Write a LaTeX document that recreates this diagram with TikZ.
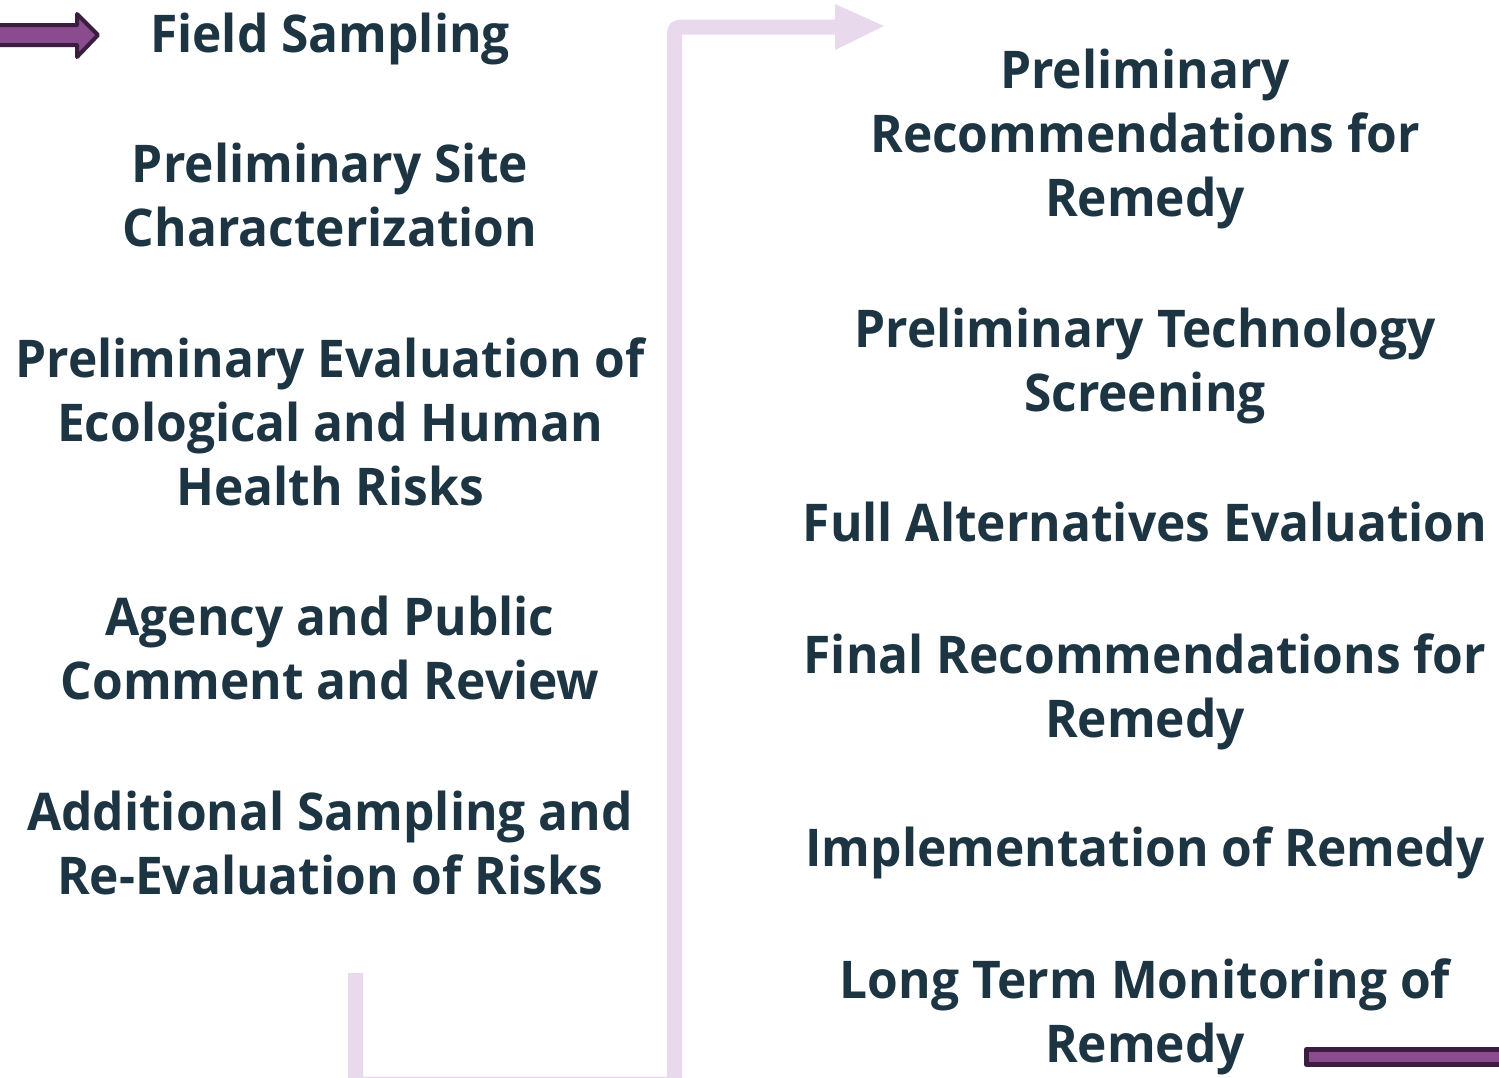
\documentclass[tikz,border=0pt]{standalone}
\usepackage{fontspec}
\setmainfont{Open Sans}[FakeStretch=0.955]
\begin{document}
\begin{tikzpicture}[x=1pt,y=-1pt,line join=round]
    \definecolor{slate}{RGB}{29,52,66}
    \definecolor{lilac}{RGB}{233,217,236}
    \definecolor{plum}{RGB}{139,76,143}
    \definecolor{darkplum}{RGB}{59,30,63}
    % base anchor sits on the last line of each stage
    \tikzset{stage/.style={text=slate,font=\fontsize{52}{64}\selectfont\bfseries,
            align=center,anchor=base,inner sep=0pt}}
    \useasboundingbox (0,0) rectangle (1499,1077);
    \clip (0,0) rectangle (1499,1077);
    % light bent arrow from the left column up to the right column
    \coordinate (low) at (355.5,973);
    \coordinate (dip) at (355.5,1084);
    \coordinate (riseL) at (674.5,1084);
    \coordinate (riseT) at (674.5,27);
    \coordinate (head) at (838,27);
    \draw[lilac,line width=15pt,rounded corners=5pt] (low)--(dip)--(riseL)--(riseT)--(head);
    \fill[lilac] (835,4)--(884,26)--(835,50)--cycle;
    % start and end marks
    \draw[darkplum,fill=plum,line width=4pt]
    (-5,25)--(77,25)--(77,14)--(98,35)--(77,57)--(77,45)--(-5,45)--cycle;
    \draw[darkplum,fill=plum,line width=5pt] (1306.5,1049.5) rectangle (1510,1064.5);
    % left column
    \node[stage] (fs) at (330,52) {Field Sampling};
    \node[stage] (psc) at (330,246) {Preliminary Site\\Characterization};
    \node[stage] (pe) at (330,505) {Preliminary Evaluation of\\Ecological and Human\\Health Risks};
    \node[stage] (apc) at (330,699) {Agency and Public\\Comment and Review};
    \node[stage] (asr) at (330,894) {Additional Sampling and\\Re-Evaluation of Risks};
    % right column
    \node[stage] (prr) at (1145,216) {Preliminary\\Recommendations for\\Remedy};
    \node[stage] (pts) at (1145,411) {Preliminary Technology\\Screening};
    \node[stage] (fae) at (1145,541) {Full Alternatives Evaluation};
    \node[stage] (frr) at (1145,737) {Final Recommendations for\\Remedy};
    \node[stage] (ior) at (1145,866) {Implementation of Remedy};
    \node[stage] (ltm) at (1145,1062) {Long Term Monitoring of\\Remedy};
\end{tikzpicture}
\end{document}
